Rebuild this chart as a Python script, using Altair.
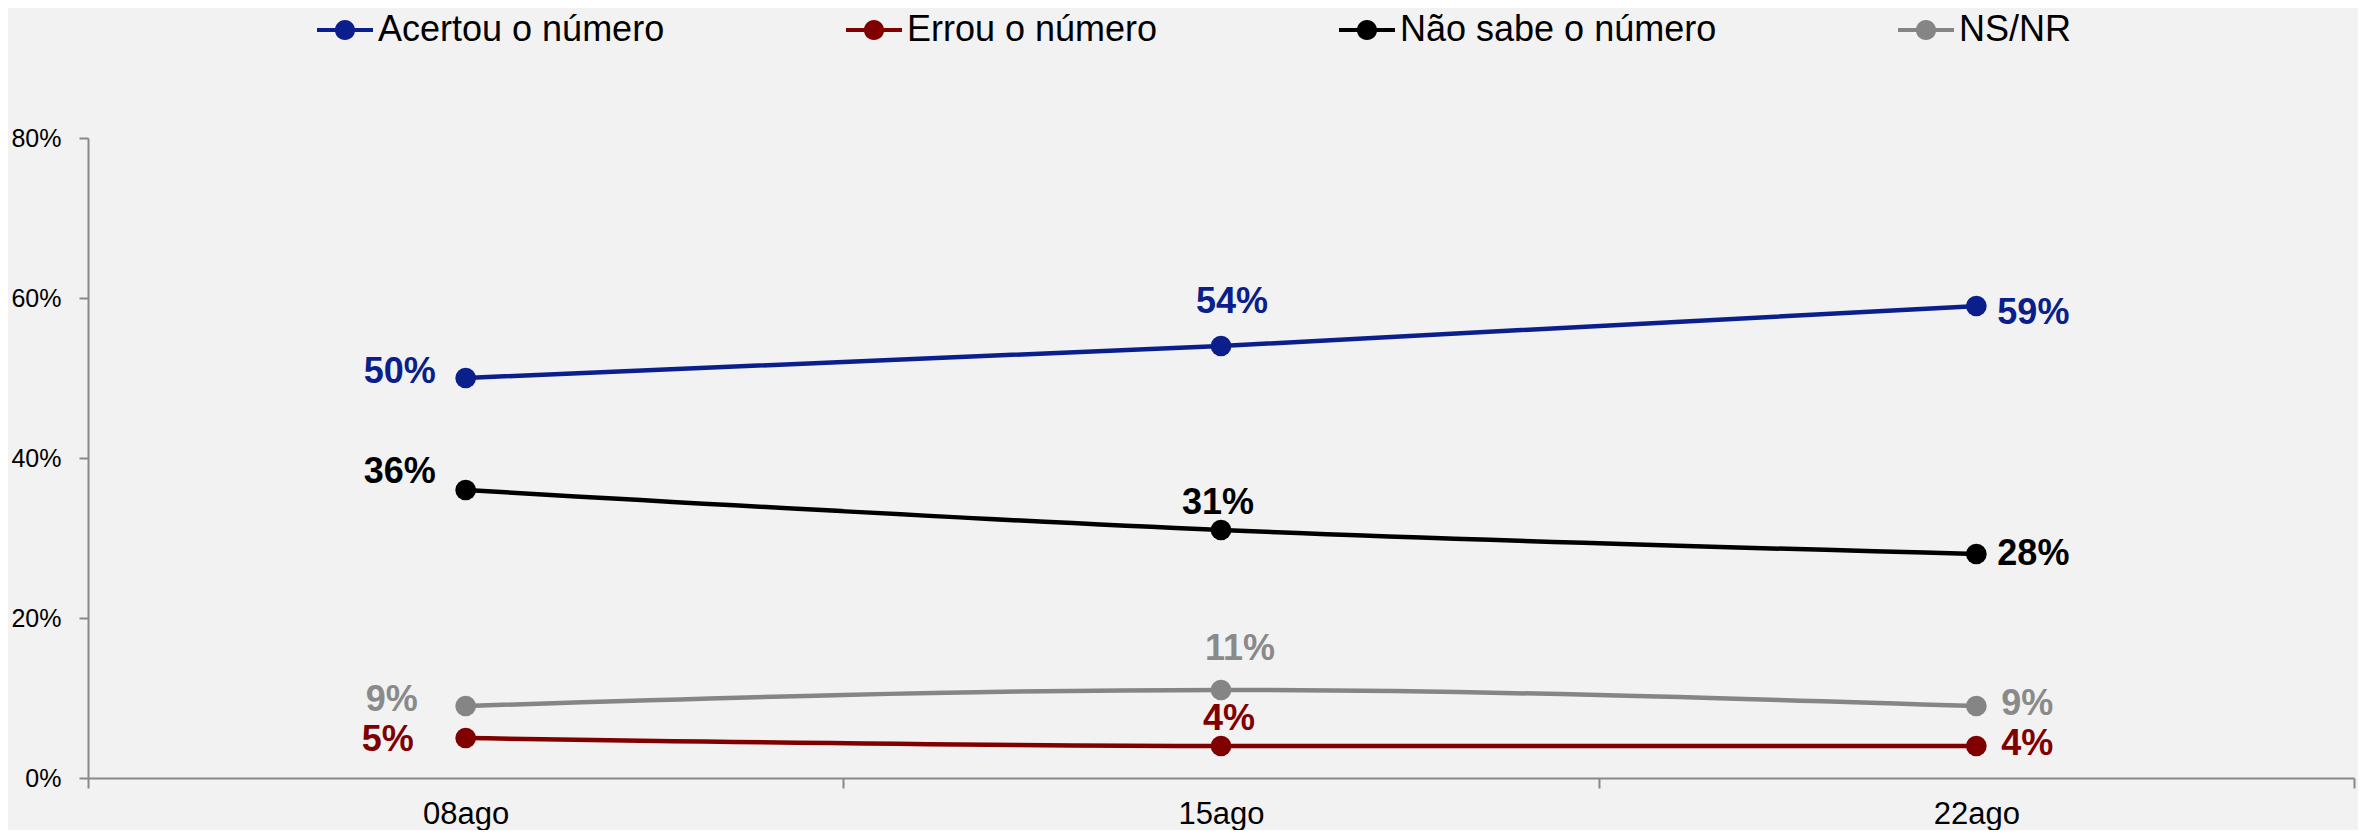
import altair as alt
import pandas as pd

dates = ["08ago", "15ago", "22ago"]
series = ["Acertou o número", "Errou o número", "Não sabe o número", "NS/NR"]
acertou = [50, 54, 59]
errou = [5, 4, 4]
nao_sabe = [36, 31, 28]
nsnr = [9, 11, 9]
y_ticks = [0, 20, 40, 60, 80]

line_colors = ["#0B1F8C", "#800000", "#000000", "#858585"]
label_colors = {"Acertou o número": "#0B1F8C", "Errou o número": "#800000",
                "Não sabe o número": "#000000", "NS/NR": "#8A8A8A"}

rows = []
for s, vals in zip(series, [acertou, errou, nao_sabe, nsnr]):
    for d, v in zip(dates, vals):
        rows.append({"date": d, "series": s, "value": v})
df = pd.DataFrame(rows)

# label placement (align, dx, dy) per series / date
placement = {
    ("Acertou o número", "08ago"): ("left", -102, -6),
    ("Não sabe o número", "08ago"): ("left", -102, -18),
    ("NS/NR", "08ago"): ("left", -100, -6),
    ("Errou o número", "08ago"): ("left", -104, 2),
    ("Acertou o número", "15ago"): ("center", 11, -44),
    ("Não sabe o número", "15ago"): ("center", -3, -27),
    ("NS/NR", "15ago"): ("center", 19, -41),
    ("Errou o número", "15ago"): ("center", 8, -27),
    ("Acertou o número", "22ago"): ("left", 21, 7),
    ("Não sabe o número", "22ago"): ("left", 21, 0),
    ("NS/NR", "22ago"): ("left", 25, -2),
    ("Errou o número", "22ago"): ("left", 25, -2),
}

x_enc = alt.X("date:N", sort=dates,
              scale=alt.Scale(type="band", domain=dates, paddingInner=0, paddingOuter=0),
              axis=alt.Axis(title=None, labelAngle=0, tickBand="extent", labelFont="Liberation Sans",
                            labelFontSize=31, labelColor="#000000", labelPadding=11, tickSize=10,
                            tickColor="#888888", tickWidth=2, domainColor="#888888", domainWidth=2,
                            grid=False))
y_enc = alt.Y("value:Q", scale=alt.Scale(domain=[0, 80], nice=False, zero=True),
              axis=alt.Axis(title=None, values=y_ticks, labelExpr="datum.value + '%'",
                            labelFont="Liberation Sans",
                            labelFontSize=25, labelColor="#000000", labelPadding=18, tickSize=9,
                            tickColor="#888888", tickWidth=2, domainColor="#888888", domainWidth=2,
                            grid=False))
color_scale = alt.Scale(domain=series, range=line_colors)

legend_symbol = ("M-1,-0.075 L1,-0.075 L1,0.075 L-1,0.075 Z "
                 "M0.36,0 A0.36,0.36 0 1,1 -0.36,0 A0.36,0.36 0 1,1 0.36,0 Z")

legend = alt.Legend(title=None, orient="none", direction="horizontal",
                    legendX=229, legendY=-136, padding=0,
                    symbolType=legend_symbol, symbolSize=3136,
                    symbolStrokeWidth=0, symbolOpacity=1,
                    labelFont="Liberation Sans", labelFontSize=36,
                    labelColor="#000000", labelOffset=5, labelLimit=600,
                    columnPadding=181, columns=4)

lines = alt.Chart(df).mark_line(strokeWidth=4.5, interpolate="monotone").encode(
    x=x_enc, y=y_enc,
    color=alt.Color("series:N", scale=color_scale, sort=series, legend=legend),
)

points = alt.Chart(df).mark_point(filled=True, size=430, opacity=1).encode(
    x=x_enc, y=y_enc,
    color=alt.Color("series:N", scale=color_scale, sort=series, legend=legend),
)

texts = []
for (s, d), (align, dx, dy) in placement.items():
    t = alt.Chart(df).transform_filter(
        (alt.datum.series == s) & (alt.datum.date == d)
    ).transform_calculate(label="datum.value + '%'").mark_text(
        align=align, baseline="middle", dx=dx, dy=dy, font="Liberation Sans",
        fontSize=36, fontWeight="bold", color=label_colors[s]
    ).encode(x=x_enc, y=y_enc, text="label:N")
    texts.append(t)

chart = alt.layer(lines, points, *texts).properties(
    width=2266, height=640,
    padding={"left": 80, "top": 130, "right": 4, "bottom": 52},
    autosize=alt.AutoSizeParams(type="none"),
    background="#f2f2f2",
).configure_view(stroke=None)

chart.save("out.html", embed_options={"renderer": "svg", "actions": False})
